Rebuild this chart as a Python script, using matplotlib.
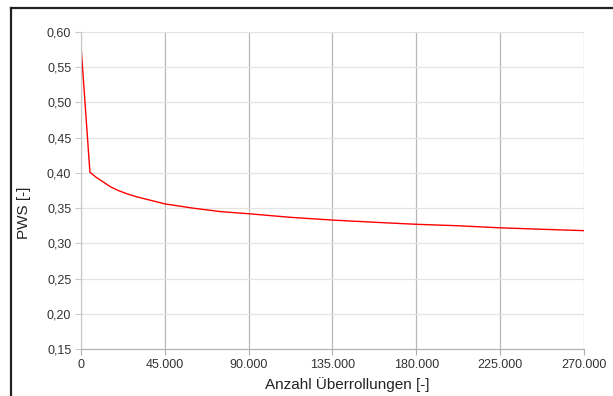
import matplotlib.pyplot as plt
from matplotlib.lines import Line2D
from matplotlib.ticker import FuncFormatter

# Werte
ueberrollungen = [0, 4800, 8000, 12000, 16000, 20000, 25000, 30000, 36000, 45000,
                  60000, 75000, 90000, 112000, 135000, 157000, 180000, 202000,
                  225000, 247000, 270000]
pws = [0.581, 0.401, 0.394, 0.387, 0.380, 0.375, 0.370, 0.366, 0.362, 0.356,
       0.350, 0.345, 0.342, 0.337, 0.333, 0.330, 0.327, 0.325,
       0.322, 0.320, 0.318]

x_ticks = [0, 45000, 90000, 135000, 180000, 225000, 270000]
y_ticks = [0.15, 0.20, 0.25, 0.30, 0.35, 0.40, 0.45, 0.50, 0.55, 0.60]

plt.rcParams["font.family"] = ["Liberation Sans", "DejaVu Sans"]

fig = plt.figure(figsize=(6.13, 3.96), dpi=100)
ax = fig.add_axes([0.1321, 0.1187, 0.8206, 0.8005])

ax.plot(ueberrollungen, pws, color="#ff0000", linewidth=1.0)

ax.set_xlim(0, 270000)
ax.set_ylim(0.15, 0.60)
ax.set_xticks(x_ticks)
ax.set_yticks(y_ticks)
ax.xaxis.set_major_formatter(FuncFormatter(lambda v, p: f"{int(v):,}".replace(",", ".")))
ax.yaxis.set_major_formatter(FuncFormatter(lambda v, p: f"{v:.2f}".replace(".", ",")))

ax.grid(axis="y", color="#e4e4e4", linewidth=0.9)
ax.grid(axis="x", color="#b8b8b8", linewidth=0.9)
ax.set_axisbelow(True)

for side in ("top", "right"):
    ax.spines[side].set_visible(False)
ax.spines["left"].set_color("#c8c8c8")
ax.spines["bottom"].set_color("#b0b0b0")

ax.tick_params(axis="y", length=4, color="#c8c8c8", labelsize=9, labelcolor="#333333", pad=3)
ax.tick_params(axis="x", length=4, color="#b0b0b0", labelsize=9, labelcolor="#333333", pad=3)

ax.set_xlabel("Anzahl Überrollungen [-]", fontsize=11, color="#222222")
ax.xaxis.set_label_coords(0.529, -0.088)
ax.set_ylabel("PWS [-]", fontsize=11, color="#222222")
ax.yaxis.set_label_coords(-0.100, 0.429)

# Rahmenlinien oben und links
fig.add_artist(Line2D([0.018, 1.0], [0.98, 0.98], transform=fig.transFigure,
                      color="#222222", linewidth=1.6))
fig.add_artist(Line2D([0.018, 0.018], [0.0, 0.98], transform=fig.transFigure,
                      color="#222222", linewidth=1.6))

fig.savefig("out.png", dpi=100)
